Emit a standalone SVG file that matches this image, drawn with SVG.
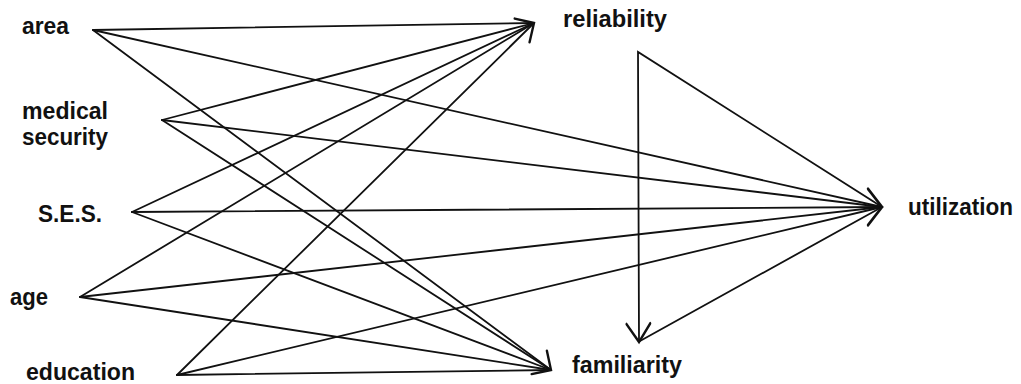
<svg xmlns="http://www.w3.org/2000/svg" xmlns:xlink="http://www.w3.org/1999/xlink" width="1021" height="384" viewBox="0 0 1021 384">
<style>
  .lbl { font-family: "Liberation Sans", Arial, sans-serif; font-weight: bold; font-size: 24px; fill: #111; }
  .sm { font-size: 23px; }
  .edge { stroke: #111; stroke-width: 1.8; fill: none; stroke-linecap: round; }
  .head { stroke: #111; stroke-width: 2.4; fill: none; stroke-linecap: round; stroke-linejoin: miter; }
</style>
<defs>
  <path id="ah" d="M-14,-14 L0,0 L-14,14"/>
</defs>
<rect width="1021" height="384" fill="#fff"/>
<g id="connectors">
  <!-- area -->
  <line class="edge" x1="93" y1="30" x2="534" y2="23"/>
  <line class="edge" x1="93" y1="30" x2="882" y2="207"/>
  <line class="edge" x1="93" y1="30" x2="551" y2="370"/>
  <!-- medical security -->
  <line class="edge" x1="162" y1="120" x2="534" y2="23"/>
  <line class="edge" x1="162" y1="120" x2="882" y2="207"/>
  <line class="edge" x1="162" y1="120" x2="551" y2="370"/>
  <!-- S.E.S. -->
  <line class="edge" x1="132" y1="212" x2="534" y2="23"/>
  <line class="edge" x1="132" y1="212" x2="882" y2="207"/>
  <line class="edge" x1="132" y1="212" x2="551" y2="370"/>
  <!-- age -->
  <line class="edge" x1="80" y1="297" x2="534" y2="23"/>
  <line class="edge" x1="80" y1="297" x2="882" y2="207"/>
  <line class="edge" x1="80" y1="297" x2="551" y2="370"/>
  <!-- education -->
  <line class="edge" x1="177" y1="375" x2="534" y2="23"/>
  <line class="edge" x1="177" y1="375" x2="882" y2="207"/>
  <line class="edge" x1="177" y1="375" x2="551" y2="370"/>
  <!-- reliability / familiarity / utilization triangle -->
  <polyline class="edge" points="639,341 638,52 882,207 640,341"/>
  <!-- arrowheads -->
  <use xlink:href="#ah" href="#ah" class="head" transform="translate(534,23) rotate(-32)"/>
  <use xlink:href="#ah" href="#ah" class="head" transform="translate(551,370) rotate(33)"/>
  <use xlink:href="#ah" href="#ah" class="head" transform="translate(882,207) rotate(0) scale(1,1.3)"/>
  <use xlink:href="#ah" href="#ah" class="head" transform="translate(639,342) rotate(88) scale(1.3,0.85)"/>
</g>
<g id="node-area"><text class="lbl" x="22" y="34" textLength="47" lengthAdjust="spacingAndGlyphs">area</text></g>
<g id="node-medical-security">
  <text class="lbl sm" x="22" y="119" textLength="86" lengthAdjust="spacingAndGlyphs">medical</text>
  <text class="lbl sm" x="22" y="145" textLength="86" lengthAdjust="spacingAndGlyphs">security</text>
</g>
<g id="node-ses"><text class="lbl" x="38" y="222" textLength="64" lengthAdjust="spacingAndGlyphs">S.E.S.</text></g>
<g id="node-age"><text class="lbl" x="10" y="305" textLength="38" lengthAdjust="spacingAndGlyphs">age</text></g>
<g id="node-education"><text class="lbl" x="26" y="380" textLength="109" lengthAdjust="spacingAndGlyphs">education</text></g>
<g id="node-reliability"><text class="lbl" x="563" y="27" textLength="104" lengthAdjust="spacingAndGlyphs">reliability</text></g>
<g id="node-familiarity"><text class="lbl" x="572" y="373" textLength="110" lengthAdjust="spacingAndGlyphs">familiarity</text></g>
<g id="node-utilization"><text class="lbl" x="908" y="215" textLength="105" lengthAdjust="spacingAndGlyphs">utilization</text></g>
</svg>
